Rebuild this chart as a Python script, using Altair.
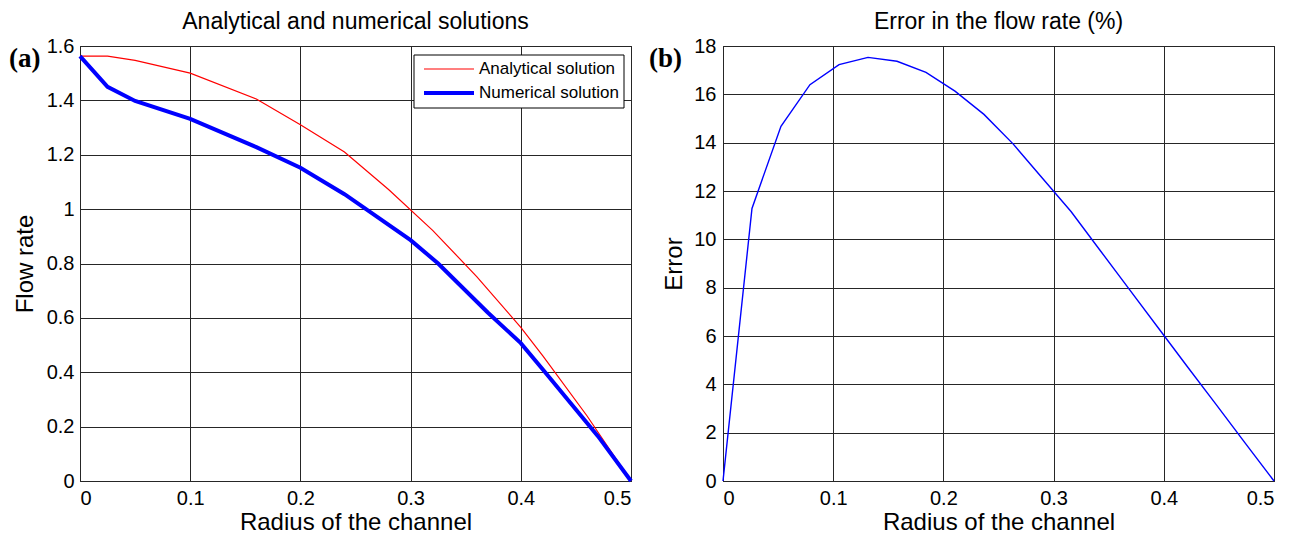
import altair as alt
import pandas as pd

# Panel (a): flow rate against channel radius
r_analytical = [0.0, 0.025, 0.05, 0.1, 0.16, 0.2, 0.24, 0.28, 0.32, 0.36, 0.4, 0.42, 0.46, 0.5]
q_analytical = [1.5625, 1.5625, 1.547, 1.50, 1.405, 1.31, 1.21, 1.072, 0.922, 0.752, 0.565, 0.46, 0.24, 0.0]

r_numerical = [0.0, 0.025, 0.05, 0.1, 0.16, 0.2, 0.24, 0.3, 0.325, 0.37, 0.4, 0.42, 0.47, 0.5]
q_numerical = [1.5625, 1.45, 1.398, 1.332, 1.228, 1.152, 1.055, 0.886, 0.80, 0.62, 0.507, 0.41, 0.165, 0.0]

# Panel (b): relative error in percent
r_error = [0.0, 0.0263, 0.0526, 0.0789, 0.1053, 0.1316, 0.1579, 0.1842, 0.2105, 0.2368,
           0.2632, 0.2895, 0.3158, 0.3421, 0.3684, 0.3947, 0.4211, 0.4474, 0.4737, 0.5]
err_pct = [0.0, 11.28, 14.68, 16.40, 17.23, 17.53, 17.37, 16.91, 16.13, 15.17,
           13.95, 12.55, 11.15, 9.55, 7.95, 6.35, 4.75, 3.17, 1.58, 0.0]

x_ticks = [0, 0.1, 0.2, 0.3, 0.4, 0.5]
y_ticks_a = [0, 0.2, 0.4, 0.6, 0.8, 1, 1.2, 1.4, 1.6]
y_ticks_b = [0, 2, 4, 6, 8, 10, 12, 14, 16, 18]

series_names = ["Analytical solution", "Numerical solution"]
series_colors = ["#ff0000", "#0000ff"]
series_widths = [1.2, 4]

flow = pd.concat([
    pd.DataFrame({"r": r_analytical, "q": q_analytical, "series": series_names[0]}),
    pd.DataFrame({"r": r_numerical, "q": q_numerical, "series": series_names[1]}),
])
errors = pd.DataFrame({"r": r_error, "err": err_pct})

FONT = "Liberation Sans"
W, H = 551, 435

x_axis = alt.Axis(values=x_ticks, format="~g", title="Radius of the channel",
                  labelPadding=7, titlePadding=2)

lines_a = alt.Chart(flow).mark_line(strokeJoin="miter").encode(
    x=alt.X("r:Q", scale=alt.Scale(domain=[0, 0.5], nice=False), axis=x_axis),
    y=alt.Y("q:Q", scale=alt.Scale(domain=[0, 1.6], nice=False),
            axis=alt.Axis(values=y_ticks_a, format="~g", title="Flow rate",
                          labelPadding=6, titlePadding=9)),
    color=alt.Color("series:N", scale=alt.Scale(domain=series_names, range=series_colors),
                    legend=None),
    strokeWidth=alt.StrokeWidth("series:N",
                                scale=alt.Scale(domain=series_names, range=series_widths),
                                legend=None),
    order="r:Q",
)

# Boxed key in the upper right corner of panel (a)
key_layers = [
    alt.Chart(pd.DataFrame({"k": [0]})).mark_rect(
        fill="white", stroke="black", strokeWidth=1
    ).encode(x=alt.value(334), x2=alt.value(544), y=alt.value(9), y2=alt.value(62))
]
for i, (name, col, sw) in enumerate(zip(series_names, series_colors, series_widths)):
    row_y = 23 + 24 * i
    entry = pd.DataFrame({"label": [name]})
    key_layers.append(
        alt.Chart(entry).mark_rule(color=col, strokeWidth=sw).encode(
            x=alt.value(344), x2=alt.value(394), y=alt.value(row_y)
        )
    )
    key_layers.append(
        alt.Chart(entry).mark_text(
            align="left", baseline="middle", font=FONT, fontSize=17, color="black"
        ).encode(text="label:N", x=alt.value(399), y=alt.value(row_y))
    )

tag_a = alt.Chart(pd.DataFrame({"tag": ["(a)"]})).mark_text(
    font="Liberation Serif", fontSize=27, fontWeight="bold", align="left",
    baseline="middle", color="black",
).encode(text="tag:N", x=alt.value(-71), y=alt.value(13))

panel_a = alt.layer(lines_a, *key_layers, tag_a).properties(
    width=W, height=H,
    title=alt.TitleParams("Analytical and numerical solutions", frame="group", offset=2),
)

line_b = alt.Chart(errors).mark_line(color="#0000ff", strokeWidth=1.4).encode(
    x=alt.X("r:Q", scale=alt.Scale(domain=[0, 0.5], nice=False), axis=x_axis),
    y=alt.Y("err:Q", scale=alt.Scale(domain=[0, 18], nice=False),
            axis=alt.Axis(values=y_ticks_b, format="~g", title="Error",
                          labelPadding=7, titlePadding=7)),
    order="r:Q",
)

tag_b = alt.Chart(pd.DataFrame({"tag": ["(b)"]})).mark_text(
    font="Liberation Serif", fontSize=27, fontWeight="bold", align="left",
    baseline="middle", color="black",
).encode(text="tag:N", x=alt.value(-74), y=alt.value(13))

panel_b = alt.layer(line_b, tag_b).properties(
    width=W, height=H,
    title=alt.TitleParams("Error in the flow rate (%)", frame="group", offset=2),
)

chart = alt.hconcat(panel_a, panel_b, spacing=8).properties(
    padding={"left": 8, "top": 10, "right": 5, "bottom": 5},
).configure(
    font=FONT,
).configure_view(
    stroke="black", strokeWidth=1,
).configure_axis(
    grid=True, gridColor="#262626", gridOpacity=1, gridWidth=1,
    ticks=False, domain=False,
    labelFont=FONT, labelFontSize=20, labelColor="black",
    titleFont=FONT, titleFontSize=24, titleFontWeight="normal", titleColor="black",
).configure_title(
    font=FONT, fontSize=23, fontWeight="normal", color="black", anchor="middle",
)

chart.save("out.html", embed_options={"renderer": "svg", "actions": False})
